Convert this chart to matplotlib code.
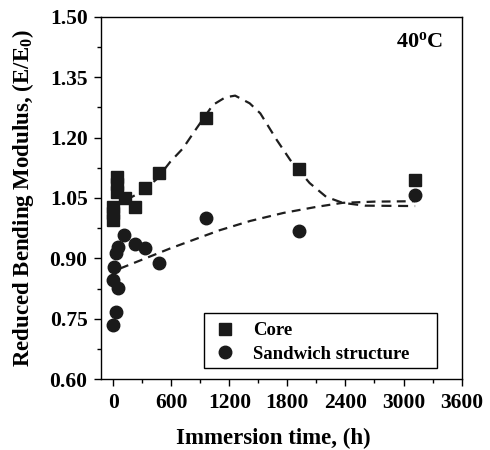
import matplotlib
matplotlib.use("Agg")
from matplotlib import pyplot as plt
from matplotlib.ticker import MultipleLocator
from matplotlib.patches import Rectangle

plt.rcParams['font.family'] = ['Liberation Serif', 'DejaVu Serif']
plt.rcParams['font.weight'] = 'bold'
plt.rcParams['mathtext.fontset'] = 'custom'
plt.rcParams['mathtext.rm'] = 'Liberation Serif:bold'
plt.rcParams['mathtext.bf'] = 'Liberation Serif:bold'
plt.rcParams['mathtext.it'] = 'Liberation Serif:bold'

# measured points
core_x = [0, 0, 0, 35, 40, 40, 120, 230, 330, 470, 960, 1920, 3120]
core_y = [1.028, 1.012, 0.996, 1.103, 1.084, 1.064, 1.05, 1.028, 1.074, 1.112, 1.249, 1.121, 1.095]

sand_x = [0, 28, 0, 52, 7, 28, 52, 110, 224, 327, 475, 954, 1918, 3120]
sand_y = [0.735, 0.768, 0.846, 0.826, 0.878, 0.913, 0.929, 0.958, 0.937, 0.925, 0.889, 1.0, 0.969, 1.057]

# dashed fit curves
core_fit_x = [130, 300, 450, 590, 720, 850, 1030, 1160, 1260, 1410, 1520, 1690,
              1830, 2030, 2200, 2370, 2600, 3120]
core_fit_y = [1.045, 1.066, 1.097, 1.140, 1.173, 1.219, 1.281, 1.300, 1.304,
              1.285, 1.260, 1.194, 1.144, 1.087, 1.053, 1.038, 1.031, 1.030]

sand_fit_x = [70, 330, 590, 850, 1100, 1415, 1760, 2100, 2370, 2700, 3120]
sand_fit_y = [0.875, 0.900, 0.925, 0.948, 0.970, 0.993, 1.013, 1.028, 1.038, 1.041, 1.042]

x_ticks = [0, 600, 1200, 1800, 2400, 3000, 3600]
y_ticks = [0.60, 0.75, 0.90, 1.05, 1.20, 1.35, 1.50]

fig = plt.figure(figsize=(4.9, 4.5), dpi=100)
ax = fig.add_axes([0.207, 0.157, 0.735, 0.806])

ax.plot(core_fit_x, core_fit_y, color='#1e1e1e', lw=1.6, dashes=(4.5, 3))
ax.plot(sand_fit_x, sand_fit_y, color='#1e1e1e', lw=1.6, dashes=(4, 2.8))

ax.plot(core_x, core_y, 's', color='#1a1a1a', ms=8.5, label='Core')
ax.plot(sand_x, sand_y, 'o', color='#1a1a1a', ms=9, label='Sandwich structure')

ax.set_xlim(-122, 3600)
ax.set_ylim(0.60, 1.50)
ax.set_xticks(x_ticks)
ax.set_yticks(y_ticks)
ax.set_yticklabels(['%.2f' % v for v in y_ticks])
ax.xaxis.set_minor_locator(MultipleLocator(300))
ax.yaxis.set_minor_locator(MultipleLocator(0.075))
ax.tick_params(which='major', direction='out', length=5, width=1, labelsize=15.5, pad=5)
ax.tick_params(which='minor', direction='out', length=3, width=1)
for s in ax.spines.values():
    s.set_linewidth(1)

ax.set_xlabel('Immersion time, (h)', fontsize=16.5, fontweight='bold')
ax.set_ylabel(r'Reduced Bending Modulus, (E/E$_0$)', fontsize=16.5, fontweight='bold')
ax.xaxis.set_label_coords(0.4775, -0.135)
ax.yaxis.set_label_coords(-0.182, 0.5)

ax.text(0.948, 0.931, r'40$^{\mathrm{o}}$C', transform=ax.transAxes, ha='right', va='center',
        fontsize=16, fontweight='bold')

# legend box drawn by hand, it is wider than the text
ax.add_patch(Rectangle((0.2846, 0.0303), 0.6474, 0.1534, transform=ax.transAxes,
                       fill=False, ec='black', lw=1, zorder=5))
leg = ax.legend(loc='upper left', bbox_to_anchor=(0.2846, 0.1837), fontsize=13.5,
                frameon=False, handletextpad=0.9, borderpad=0.5,
                labelspacing=0.35, handlelength=1.2, borderaxespad=0)

fig.savefig('out.png', dpi=100)
